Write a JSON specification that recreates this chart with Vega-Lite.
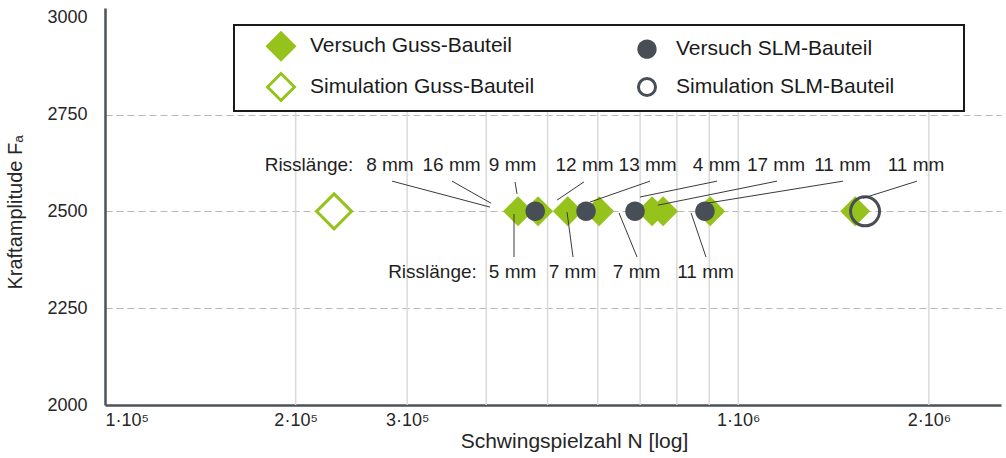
{
  "$schema": "https://vega.github.io/schema/vega-lite/v6.json",
  "width": 896,
  "height": 397,
  "autosize": "none",
  "padding": {"left": 105, "top": 8, "right": 5, "bottom": 53},
  "background": "white",
  "config": {
    "font": "Liberation Sans",
    "view": {"stroke": null},
    "legend": {"strokeWidth": 2}
  },
  "datasets": {
    "grid": [
      {"N": 200000}, {"N": 300000}, {"N": 400000}, {"N": 500000}, {"N": 600000},
      {"N": 700000}, {"N": 800000}, {"N": 900000}, {"N": 1000000}, {"N": 2000000}
    ],
    "points": [
      {"series": "Versuch Guss-Bauteil", "N": 449000, "F": 2500},
      {"series": "Versuch Guss-Bauteil", "N": 483000, "F": 2500},
      {"series": "Versuch Guss-Bauteil", "N": 538000, "F": 2500},
      {"series": "Versuch Guss-Bauteil", "N": 603000, "F": 2500},
      {"series": "Versuch Guss-Bauteil", "N": 731000, "F": 2500},
      {"series": "Versuch Guss-Bauteil", "N": 761000, "F": 2500},
      {"series": "Versuch Guss-Bauteil", "N": 903000, "F": 2500},
      {"series": "Versuch Guss-Bauteil", "N": 1530000, "F": 2500},
      {"series": "Simulation Guss-Bauteil", "N": 230000, "F": 2500},
      {"series": "Versuch SLM-Bauteil", "N": 478000, "F": 2500},
      {"series": "Versuch SLM-Bauteil", "N": 575000, "F": 2500},
      {"series": "Versuch SLM-Bauteil", "N": 687000, "F": 2500},
      {"series": "Versuch SLM-Bauteil", "N": 886000, "F": 2500},
      {"series": "Simulation SLM-Bauteil", "N": 1586000, "F": 2500}
    ],
    "leaders": [
      {"xa": 284000, "ya": 2578, "xb": 405500, "yb": 2511},
      {"xa": 353200, "ya": 2578, "xb": 407000, "yb": 2521},
      {"xa": 444100, "ya": 2576, "xb": 447400, "yb": 2545},
      {"xa": 570700, "ya": 2576, "xb": 517400, "yb": 2529},
      {"xa": 725600, "ya": 2578, "xb": 583400, "yb": 2524},
      {"xa": 925900, "ya": 2578, "xb": 699700, "yb": 2537},
      {"xa": 1151500, "ya": 2578, "xb": 747000, "yb": 2516},
      {"xa": 1464100, "ya": 2578, "xb": 892900, "yb": 2521},
      {"xa": 1916000, "ya": 2578, "xb": 1574000, "yb": 2534},
      {"xa": 442500, "ya": 2382, "xb": 442500, "yb": 2493},
      {"xa": 548400, "ya": 2382, "xb": 536600, "yb": 2498},
      {"xa": 692200, "ya": 2382, "xb": 648200, "yb": 2496},
      {"xa": 889500, "ya": 2382, "xb": 842400, "yb": 2496}
    ],
    "labels": [
      {"text": "Risslänge:", "N": 210000, "F": 2604},
      {"text": "8 mm", "N": 281800, "F": 2604},
      {"text": "16 mm", "N": 352600, "F": 2604},
      {"text": "9 mm", "N": 440200, "F": 2604},
      {"text": "12 mm", "N": 571800, "F": 2604},
      {"text": "13 mm", "N": 719300, "F": 2604},
      {"text": "4 mm", "N": 924200, "F": 2604},
      {"text": "17 mm", "N": 1147000, "F": 2604},
      {"text": "11 mm", "N": 1461000, "F": 2604},
      {"text": "11 mm", "N": 1909000, "F": 2604},
      {"text": "Risslänge:", "N": 329000, "F": 2328},
      {"text": "5 mm", "N": 440200, "F": 2328},
      {"text": "7 mm", "N": 547400, "F": 2328},
      {"text": "7 mm", "N": 691000, "F": 2328},
      {"text": "11 mm", "N": 887800, "F": 2328}
    ]
  },
  "layer": [
    {
      "data": {"name": "grid"},
      "mark": {"type": "rule", "color": "#dadada", "strokeWidth": 1.5},
      "encoding": {
        "x": {"field": "N", "type": "quantitative", "scale": {"type": "log", "domain": [100000, 2600000], "nice": false}},
        "y": {"datum": 2000, "type": "quantitative", "scale": {"domain": [2000, 3025], "nice": false, "zero": false}},
        "y2": {"datum": 2767}
      }
    },
    {
      "data": {"name": "points"},
      "transform": [{"filter": "datum.series === 'Versuch Guss-Bauteil'"}],
      "mark": {"type": "point", "filled": true, "opacity": 1, "strokeWidth": 3, "size": 900},
      "encoding": {
        "x": {
          "field": "N", "type": "quantitative",
          "scale": {"type": "log", "domain": [100000, 2600000], "nice": false},
          "axis": {
            "title": "Schwingspielzahl N [log]",
            "values": [100000, 200000, 300000, 1000000, 2000000],
            "labelExpr": "datum.value == 100000 ? '1·10⁵' : datum.value == 200000 ? '2·10⁵' : datum.value == 300000 ? '3·10⁵' : datum.value == 1000000 ? '1·10⁶' : '2·10⁶'",
            "grid": false, "ticks": false, "tickSize": 0,
            "domainColor": "#4b5258", "domainWidth": 2.5,
            "labelFontSize": 18, "labelColor": "#262626", "labelPadding": 6, "labelOverlap": false,
            "titleFontSize": 21, "titleFontWeight": "normal", "titleColor": "#262626",
            "titleX": 469, "titleY": 42, "titleBaseline": "alphabetic", "titleAlign": "center", "titleAnchor": null
          }
        },
        "y": {
          "field": "F", "type": "quantitative",
          "scale": {"domain": [2000, 3025], "nice": false, "zero": false},
          "axis": {
            "title": "Kraftamplitude Fₐ",
            "values": [2000, 2250, 2500, 2750, 3000],
            "format": "d",
            "grid": true, "gridDash": [7, 4], "gridColor": "#b8b8b8", "gridWidth": 1.2,
            "gridOpacity": {"condition": {"test": "datum.value == 2000 || datum.value == 3000", "value": 0}, "value": 1},
            "ticks": false, "tickSize": 0,
            "domainColor": "#4b5258", "domainWidth": 2.5,
            "labelFontSize": 18, "labelColor": "#262626", "labelPadding": 18,
            "titleFontSize": 20, "titleFontWeight": "normal", "titleColor": "#262626",
            "titleX": -84, "titleY": 204, "titleBaseline": "alphabetic", "titleAlign": "center", "titleAngle": -90
          }
        },
        "shape": {
          "field": "series", "type": "nominal",
          "scale": {"domain": ["Versuch Guss-Bauteil", "Simulation Guss-Bauteil", "Versuch SLM-Bauteil", "Simulation SLM-Bauteil"], "range": ["diamond", "M-0.87,0L0,-0.87L0.87,0L0,0.87Z", "M0.62,0A0.62,0.62,0,1,1,-0.62,0A0.62,0.62,0,1,1,0.62,0Z", "M0.55,0A0.55,0.55,0,1,1,-0.55,0A0.55,0.55,0,1,1,0.55,0Z"]},
          "legend": {
            "orient": "none", "legendX": 129, "legendY": 17, "columns": 2,
            "title": " ", "titleOrient": "right", "titlePadding": 66, "titleFontSize": 21,
            "strokeColor": "#1a1a1a", "fillColor": "white", "padding": 4,
            "labelFontSize": 21, "labelColor": "#1a1a1a", "labelLimit": 400,
            "symbolSize": 961, "symbolStrokeWidth": 3,
            "symbolOffset": 26, "labelOffset": 12, "columnPadding": 69, "rowPadding": -1
          }
        },
        "fill": {
          "field": "series", "type": "nominal",
          "scale": {"domain": ["Versuch Guss-Bauteil", "Simulation Guss-Bauteil", "Versuch SLM-Bauteil", "Simulation SLM-Bauteil"], "range": ["#95c31b", "white", "#474e55", "transparent"]}
        },
        "stroke": {
          "field": "series", "type": "nominal",
          "scale": {"domain": ["Versuch Guss-Bauteil", "Simulation Guss-Bauteil", "Versuch SLM-Bauteil", "Simulation SLM-Bauteil"], "range": ["transparent", "#95c31b", "transparent", "#474e55"]}
        }
      }
    },
    {
      "data": {"name": "points"},
      "transform": [{"filter": "datum.series === 'Simulation Guss-Bauteil'"}],
      "mark": {"type": "point", "filled": true, "opacity": 1, "strokeWidth": 3, "size": 1618},
      "encoding": {
        "x": {"field": "N", "type": "quantitative", "scale": {"type": "log", "domain": [100000, 2600000], "nice": false}},
        "y": {"field": "F", "type": "quantitative", "scale": {"domain": [2000, 3025], "nice": false, "zero": false}},
        "shape": {"field": "series", "type": "nominal", "scale": {"domain": ["Versuch Guss-Bauteil", "Simulation Guss-Bauteil", "Versuch SLM-Bauteil", "Simulation SLM-Bauteil"], "range": ["diamond", "M-0.87,0L0,-0.87L0.87,0L0,0.87Z", "M0.62,0A0.62,0.62,0,1,1,-0.62,0A0.62,0.62,0,1,1,0.62,0Z", "M0.55,0A0.55,0.55,0,1,1,-0.55,0A0.55,0.55,0,1,1,0.55,0Z"]}},
        "fill": {"field": "series", "type": "nominal", "scale": {"domain": ["Versuch Guss-Bauteil", "Simulation Guss-Bauteil", "Versuch SLM-Bauteil", "Simulation SLM-Bauteil"], "range": ["#95c31b", "white", "#474e55", "transparent"]}},
        "stroke": {"field": "series", "type": "nominal", "scale": {"domain": ["Versuch Guss-Bauteil", "Simulation Guss-Bauteil", "Versuch SLM-Bauteil", "Simulation SLM-Bauteil"], "range": ["transparent", "#95c31b", "transparent", "#474e55"]}}
      }
    },
    {
      "data": {"name": "points"},
      "transform": [{"filter": "datum.series === 'Versuch SLM-Bauteil'"}],
      "mark": {"type": "point", "filled": true, "opacity": 1, "strokeWidth": 3, "size": 989},
      "encoding": {
        "x": {"field": "N", "type": "quantitative", "scale": {"type": "log", "domain": [100000, 2600000], "nice": false}},
        "y": {"field": "F", "type": "quantitative", "scale": {"domain": [2000, 3025], "nice": false, "zero": false}},
        "shape": {"field": "series", "type": "nominal", "scale": {"domain": ["Versuch Guss-Bauteil", "Simulation Guss-Bauteil", "Versuch SLM-Bauteil", "Simulation SLM-Bauteil"], "range": ["diamond", "M-0.87,0L0,-0.87L0.87,0L0,0.87Z", "M0.62,0A0.62,0.62,0,1,1,-0.62,0A0.62,0.62,0,1,1,0.62,0Z", "M0.55,0A0.55,0.55,0,1,1,-0.55,0A0.55,0.55,0,1,1,0.55,0Z"]}},
        "fill": {"field": "series", "type": "nominal", "scale": {"domain": ["Versuch Guss-Bauteil", "Simulation Guss-Bauteil", "Versuch SLM-Bauteil", "Simulation SLM-Bauteil"], "range": ["#95c31b", "white", "#474e55", "transparent"]}},
        "stroke": {"field": "series", "type": "nominal", "scale": {"domain": ["Versuch Guss-Bauteil", "Simulation Guss-Bauteil", "Versuch SLM-Bauteil", "Simulation SLM-Bauteil"], "range": ["transparent", "#95c31b", "transparent", "#474e55"]}}
      }
    },
    {
      "data": {"name": "points"},
      "transform": [{"filter": "datum.series === 'Simulation SLM-Bauteil'"}],
      "mark": {"type": "point", "filled": true, "opacity": 1, "strokeWidth": 3, "size": 2780},
      "encoding": {
        "x": {"field": "N", "type": "quantitative", "scale": {"type": "log", "domain": [100000, 2600000], "nice": false}},
        "y": {"field": "F", "type": "quantitative", "scale": {"domain": [2000, 3025], "nice": false, "zero": false}},
        "shape": {"field": "series", "type": "nominal", "scale": {"domain": ["Versuch Guss-Bauteil", "Simulation Guss-Bauteil", "Versuch SLM-Bauteil", "Simulation SLM-Bauteil"], "range": ["diamond", "M-0.87,0L0,-0.87L0.87,0L0,0.87Z", "M0.62,0A0.62,0.62,0,1,1,-0.62,0A0.62,0.62,0,1,1,0.62,0Z", "M0.55,0A0.55,0.55,0,1,1,-0.55,0A0.55,0.55,0,1,1,0.55,0Z"]}},
        "fill": {"field": "series", "type": "nominal", "scale": {"domain": ["Versuch Guss-Bauteil", "Simulation Guss-Bauteil", "Versuch SLM-Bauteil", "Simulation SLM-Bauteil"], "range": ["#95c31b", "white", "#474e55", "transparent"]}},
        "stroke": {"field": "series", "type": "nominal", "scale": {"domain": ["Versuch Guss-Bauteil", "Simulation Guss-Bauteil", "Versuch SLM-Bauteil", "Simulation SLM-Bauteil"], "range": ["transparent", "#95c31b", "transparent", "#474e55"]}}
      }
    },
    {
      "data": {"name": "leaders"},
      "mark": {"type": "rule", "color": "#3a3a3a", "strokeWidth": 1},
      "encoding": {
        "x": {"field": "xa", "type": "quantitative", "scale": {"type": "log", "domain": [100000, 2600000], "nice": false}},
        "x2": {"field": "xb"},
        "y": {"field": "ya", "type": "quantitative", "scale": {"domain": [2000, 3025], "nice": false, "zero": false}},
        "y2": {"field": "yb"}
      }
    },
    {
      "data": {"name": "labels"},
      "mark": {"type": "text", "fontSize": 19, "color": "#1f1f1f", "align": "center", "baseline": "alphabetic"},
      "encoding": {
        "x": {"field": "N", "type": "quantitative", "scale": {"type": "log", "domain": [100000, 2600000], "nice": false}},
        "y": {"field": "F", "type": "quantitative", "scale": {"domain": [2000, 3025], "nice": false, "zero": false}},
        "text": {"field": "text", "type": "nominal"}
      }
    },
    {
      "mark": {"type": "point", "shape": "triangle-right", "filled": true, "opacity": 1, "color": "#4b5258", "size": 110},
      "encoding": {
        "x": {"datum": 2590000, "type": "quantitative", "scale": {"type": "log", "domain": [100000, 2600000], "nice": false}},
        "y": {"datum": 2000, "type": "quantitative", "scale": {"domain": [2000, 3025], "nice": false, "zero": false}}
      }
    },
    {
      "mark": {"type": "point", "shape": "triangle-up", "filled": true, "opacity": 1, "color": "#4b5258", "size": 110},
      "encoding": {
        "x": {"datum": 100000, "type": "quantitative", "scale": {"type": "log", "domain": [100000, 2600000], "nice": false}},
        "y": {"datum": 3021, "type": "quantitative", "scale": {"domain": [2000, 3025], "nice": false, "zero": false}}
      }
    }
  ]
}
